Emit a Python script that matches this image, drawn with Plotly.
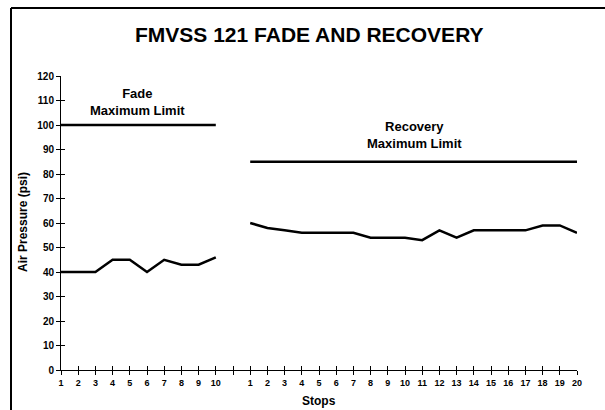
import plotly.graph_objects as go

fade_stops = ["1", "2", "3", "4", "5", "6", "7", "8", "9", "10"]
recovery_stops = [str(i) for i in range(1, 21)]
fade_pressure = [40, 40, 40, 45, 45, 40, 45, 43, 43, 46]
recovery_pressure = [60, 58, 57, 56, 56, 56, 56, 54, 54, 54, 53, 57, 54, 57, 57, 57, 57, 59, 59, 56]
fade_limit = 100
recovery_limit = 85
y_ticks = list(range(0, 121, 10))

tick_labels = fade_stops + [""] + recovery_stops
n_fade = len(fade_stops)
positions = list(range(len(tick_labels)))
fade_x = positions[:n_fade]
rec_x = positions[n_fade + 1:]

FONT = "Liberation Sans, Arial, sans-serif"
line_style = dict(color="black", width=2.5)

fig = go.Figure()
fig.add_trace(go.Scatter(x=fade_x, y=fade_pressure, mode="lines", line=line_style, hoverinfo="skip"))
fig.add_trace(go.Scatter(x=rec_x, y=recovery_pressure, mode="lines", line=line_style, hoverinfo="skip"))
fig.add_trace(go.Scatter(x=[fade_x[0], fade_x[-1]], y=[fade_limit] * 2, mode="lines", line=line_style, hoverinfo="skip"))
fig.add_trace(go.Scatter(x=[rec_x[0], rec_x[-1]], y=[recovery_limit] * 2, mode="lines", line=line_style, hoverinfo="skip"))
# invisible trace to activate overlay axes (inside half of the crossing ticks)
fig.add_trace(go.Scatter(x=[0], y=[0], xaxis="x2", yaxis="y2", mode="markers", marker=dict(opacity=0), hoverinfo="skip"))

xr = [0, len(tick_labels) - 1]
yr = [0, 120]
L, T, PW, PH = 61, 76, 516, 294


def px(x):
    return (x - L) / PW


def py(y):
    return (T + PH - y) / PH


fig.update_layout(
    width=605, height=410,
    margin=dict(l=L, r=605 - L - PW, t=T, b=410 - T - PH),
    paper_bgcolor="white", plot_bgcolor="white",
    showlegend=False,
    font=dict(family=FONT, color="black"),
    xaxis=dict(range=xr, tickmode="array", tickvals=positions, ticktext=tick_labels,
               ticks="outside", ticklen=4, tickwidth=1, tickcolor="black",
               showline=True, linecolor="black", linewidth=1, showgrid=False, zeroline=False,
               tickfont=dict(size=9, family=FONT, weight="bold", color="black")),
    yaxis=dict(range=yr, tickmode="array", tickvals=y_ticks,
               ticks="outside", ticklen=4, tickwidth=1, tickcolor="black",
               showline=True, linecolor="black", linewidth=1, showgrid=False, zeroline=False,
               tickfont=dict(size=10, family=FONT, weight="bold", color="black")),
    xaxis2=dict(range=xr, overlaying="x", tickmode="array", tickvals=positions, ticktext=[""] * len(positions),
                ticks="inside", ticklen=4, tickwidth=1, tickcolor="black", showgrid=False, zeroline=False,
                showline=False, side="bottom"),
    yaxis2=dict(range=yr, overlaying="y", tickmode="array", tickvals=y_ticks, ticktext=[""] * len(y_ticks),
                ticks="inside", ticklen=4, tickwidth=1, tickcolor="black", showgrid=False, zeroline=False,
                showline=False, side="left"),
    shapes=[
        dict(type="line", xref="paper", yref="paper", x0=px(11), x1=px(11), y0=py(420), y1=py(8),
             line=dict(color="black", width=2), layer="below"),
        dict(type="line", xref="paper", yref="paper", x0=px(11), x1=px(620), y0=py(8), y1=py(8),
             line=dict(color="black", width=2), layer="below"),
    ],
    annotations=[
        dict(text="FMVSS 121 FADE AND RECOVERY", xref="paper", yref="paper", x=px(309), y=py(34),
             showarrow=False, font=dict(size=21, family=FONT, weight="bold"), xanchor="center", yanchor="middle"),
        dict(text="Fade<br>Maximum Limit", xref="paper", yref="paper", x=px(137), y=py(102),
             showarrow=False, font=dict(size=13, family=FONT, weight="bold"), xanchor="center", yanchor="middle"),
        dict(text="Recovery<br>Maximum Limit", xref="paper", yref="paper", x=px(414), y=py(135),
             showarrow=False, font=dict(size=13, family=FONT, weight="bold"), xanchor="center", yanchor="middle"),
        dict(text="Air Pressure (psi)", xref="paper", yref="paper", x=px(23), y=py(222),
             showarrow=False, textangle=-90, font=dict(size=12, family=FONT, weight="bold"), xanchor="center", yanchor="middle"),
        dict(text="Stops", xref="paper", yref="paper", x=px(319), y=py(401),
             showarrow=False, font=dict(size=12, family=FONT, weight="bold"), xanchor="center", yanchor="middle"),
    ],
)

fig.write_html("out.html", config={"displayModeBar": False},
               post_script="document.body.style.margin='0';document.body.style.overflow='hidden';")
